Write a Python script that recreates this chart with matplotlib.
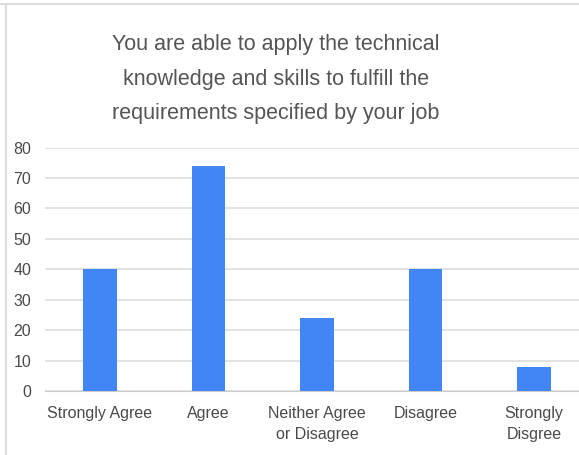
import numpy as np
import matplotlib.pyplot as plt
from matplotlib.lines import Line2D

categorias = ['Strongly Agree', 'Agree', 'Neither Agree\nor Disagree', 'Disagree', 'Strongly\nDisgree']
valores = [40, 74, 24, 40, 8]
yticks = [0, 10, 20, 30, 40, 50, 60, 70, 80]
titulo = 'You are able to apply the technical\nknowledge and skills to fulfill the\nrequirements specified by your job'

plt.rcParams['font.family'] = ['Liberation Sans', 'DejaVu Sans']

W, H = 579, 455
fig = plt.figure(figsize=(W/100, H/100), dpi=100)

# area del grafico (en pixeles de la imagen)
x0, x1 = 45, 579
y0, y1 = 391, 147.5
ax = fig.add_axes([x0/W, 1-y0/H, (x1-x0)/W, (y0-y1)/H])

x = np.arange(len(categorias))
ax.bar(x, valores, width=0.31, color='#4285f4', zorder=3)

esp = 108.5
ax.set_xlim(-(100-x0)/esp, (x1-100)/esp)
ax.set_ylim(0, 80)
ax.set_yticks(yticks)
ax.set_xticks(x)
ax.set_xticklabels(categorias, linespacing=1.45)
ax.grid(axis='y', color='#dddddd', linewidth=1.2, zorder=0)
ax.tick_params(length=0, labelsize=11.5, labelcolor='#4a4a4a')
ax.tick_params(axis='x', pad=11)
ax.tick_params(axis='y', pad=10)
for s in ['top', 'right', 'left']:
    ax.spines[s].set_visible(False)
ax.spines['bottom'].set_color('#cccccc')

fig.text(276/W, 1-79/H, titulo, ha='center', va='center', fontsize=15.5,
         color='#555555', linespacing=1.85)

# bordes grises de la captura
fig.add_artist(Line2D([0, 1], [1-4/H, 1-4/H], color='#dddddd', lw=1.5))
fig.add_artist(Line2D([5.5/W, 5.5/W], [0, 1-4/H], color='#dddddd', lw=1.5))

fig.savefig('out.png', dpi=100)
